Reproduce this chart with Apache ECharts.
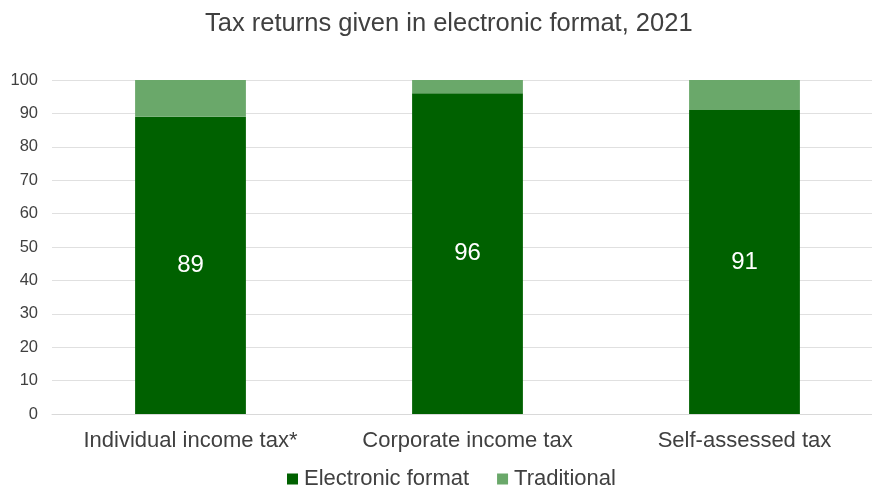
<!DOCTYPE html>
<html><head><meta charset="utf-8">
<script src="https://cdn.jsdelivr.net/npm/echarts@6/dist/echarts.min.js"></script>
<style>html,body{margin:0;padding:0;background:#fff}#c{width:872px;height:487px}</style>
</head><body><div id="c"></div>
<script>
const categories = ['Individual income tax*', 'Corporate income tax', 'Self-assessed tax'];
const electronic = [89, 96, 91];
const traditional = [11, 4, 9];
const yTicks = [0, 10, 20, 30, 40, 50, 60, 70, 80, 90, 100];

const chart = echarts.init(document.getElementById('c'), null, {renderer: 'canvas'});
chart.setOption({
  animation: false,
  title: {
    text: 'Tax returns given in electronic format, 2021',
    left: 200, top: 6,
    textStyle: {fontFamily: 'Liberation Sans, Arial', fontSize: 25.5, fontWeight: 'normal', color: '#404040'}
  },
  legend: {
    top: 463, left: 282,
    itemWidth: 11, itemHeight: 11, itemGap: 28,
    icon: 'rect',
    textStyle: {fontFamily: 'Liberation Sans, Arial', fontSize: 22, color: '#404040', padding: [0,0,0,1]},
    data: ['Electronic format', 'Traditional']
  },
  grid: {left: 52, top: 80, width: 831, height: 334, containLabel: false, outerBoundsMode: 'none'},
  xAxis: {
    type: 'category', data: categories,
    axisLine: {show: true, lineStyle: {color: '#d9d9d9'}},
    axisTick: {show: false},
    axisLabel: {interval: 0, hideOverlap: false, fontFamily: 'Liberation Sans, Arial', fontSize: 22, color: '#404040', margin: 16}
  },
  yAxis: {
    type: 'value', min: yTicks[0], max: yTicks[yTicks.length-1], interval: 10,
    axisLine: {show: false}, axisTick: {show: false},
    splitLine: {lineStyle: {color: '#e0e0e0'}},
    axisLabel: {fontFamily: 'Liberation Sans, Arial', fontSize: 16.5, color: '#404040', margin: 14}
  },
  series: [
    {
      name: 'Electronic format', type: 'bar', stack: 's', data: electronic,
      barWidth: '40%',
      itemStyle: {color: '#006100'},
      label: {show: true, position: 'inside', color: '#ffffff', fontFamily: 'Liberation Sans, Arial', fontSize: 24}
    },
    {
      name: 'Traditional', type: 'bar', stack: 's', data: traditional,
      barWidth: '40%',
      itemStyle: {color: '#6aa86a'}
    }
  ]
});
</script></body></html>
